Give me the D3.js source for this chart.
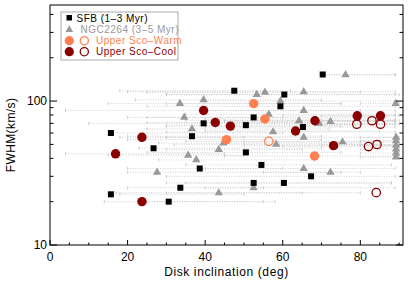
<!DOCTYPE html>
<html>
<head>
<meta charset="utf-8">
<script src="https://cdn.jsdelivr.net/npm/d3@7"></script>
<style>
  body { margin: 0; background: #fff; }
  svg { display: block; font-family: "Liberation Sans", Arial, sans-serif; }
</style>
</head>
<body>
<div id="chart"></div>
<script>
// [inclination, FWHM, incl. low, incl. high]
const sfb = [
  [47.5, 118, 18, 62], [60.4, 111, 30, 90], [59.4, 92, 25, 89], [70.3, 153, 70, 89],
  [39.6, 70, 10, 65], [50.5, 68, 30, 80], [52.5, 77, 25, 85], [36.6, 57, 20, 70],
  [50.5, 44, 25, 75], [54.5, 36, 35, 88], [38.6, 34, 20, 60], [52.5, 27, 35, 88],
  [60.3, 27, 30, 88], [33.6, 25, 20, 55], [30.6, 20, 25, 58], [15.7, 60, 16, 60],
  [26.7, 47, 23, 70], [15.7, 22.5, 18, 50], [65.2, 66, 40, 89], [67.3, 30, 30, 89]
];
const ngc = [
  [53.3, 111, 30, 89], [55.4, 115, 25, 80], [33.5, 96, 15, 75], [39.6, 102, 22, 70],
  [59.4, 100, 40, 89], [34.6, 77, 20, 60], [56.4, 81, 35, 89], [36.6, 64, 25, 72],
  [44.7, 51, 28, 80], [57.5, 61, 30, 89], [58.3, 50, 32, 85], [43.5, 46, 30, 65],
  [35.6, 42, 15, 50], [37.7, 39, 28, 68], [76.2, 152, 70, 89], [65.4, 116, 20, 89],
  [89.1, 96, 80, 90], [65.4, 86, 40, 89], [64.2, 73, 35, 89], [69.3, 70, 50, 89],
  [72.3, 72, 45, 89], [65.4, 56, 30, 89], [75.4, 52, 50, 89], [65.4, 34, 40, 89],
  [72.3, 32, 55, 80], [27.6, 32, 20, 75], [52.5, 25, 40, 89], [43.5, 23, 30, 65],
  [89.2, 56, 80, 90], [89.2, 53, 80, 90], [89.2, 49.5, 80, 90], [89.2, 46.4, 80, 90],
  [89.2, 43.5, 80, 90], [89.2, 40.8, 80, 90]
];
const warmFilled = [[52.5, 96, 30, 75], [55.4, 75, 40, 89], [45.5, 54, 20, 70], [68.2, 41.5, 45, 89]];
const warmOpen = [[56.4, 52.5, 35, 85]];
const coolFilled = [
  [39.6, 86, 4, 80], [42.6, 71, 25, 70], [46.5, 67, 30, 75], [23.7, 56, 18, 50],
  [16.9, 43, 4, 45], [23.7, 20, 14, 55], [79.2, 79, 60, 89], [85.2, 79, 70, 90],
  [68.3, 73, 45, 89], [63.3, 62, 40, 85], [73.1, 49, 50, 89]
];
const coolOpen = [
  [79.1, 69, 65, 89], [83.0, 73, 70, 90], [85.2, 69, 70, 90],
  [82.1, 48.3, 60, 89], [84.3, 49.9, 70, 90], [84.1, 23.1, 17, 80]
];
const xTicks = [0, 20, 40, 60, 80];
const yTicks = [10, 100];
const legendLabels = ["SFB (1\u20133 Myr)", "NGC2264 (3\u20135 Myr)", "Upper Sco\u2013Warm", "Upper Sco\u2013Cool"];

const width = 415, height = 283;
const m = { left: 50, right: 12, top: 5, bottom: 38 };
const warm = "#ff7f50", cool = "#8b0000", gray = "#999";

const svg = d3.select("#chart").append("svg")
  .attr("width", width).attr("height", height);

const x = d3.scaleLinear().domain([0, 91]).range([m.left, width - m.right]);
const y = d3.scaleLog().domain([10, 465]).range([height - m.bottom, m.top]);

// error bars
const all = [].concat(sfb, ngc, warmFilled, warmOpen, coolFilled, coolOpen);
const bars = svg.append("g").attr("stroke", "#c4c4c4").attr("stroke-width", 0.8);
all.forEach(d => {
  bars.append("line")
    .attr("x1", x(d[2])).attr("x2", x(d[3]))
    .attr("y1", y(d[1])).attr("y2", y(d[1]))
    .attr("stroke-dasharray", "1,1.5");
  [d[2], d[3]].forEach(v => bars.append("line")
    .attr("x1", x(v)).attr("x2", x(v))
    .attr("y1", y(d[1]) - 1.5).attr("y2", y(d[1]) + 1.5));
});

// points
svg.append("g").selectAll("path").data(ngc).join("path")
  .attr("transform", d => `translate(${x(d[0])},${y(d[1])})`)
  .attr("d", d3.symbol(d3.symbolTriangle, 30))
  .attr("fill", gray);

svg.append("g").selectAll("rect").data(sfb).join("rect")
  .attr("x", d => x(d[0]) - 3).attr("y", d => y(d[1]) - 3)
  .attr("width", 6).attr("height", 6).attr("fill", "#000");

function circles(data, color, filled) {
  svg.append("g").selectAll("circle").data(data).join("circle")
    .attr("cx", d => x(d[0])).attr("cy", d => y(d[1]))
    .attr("r", filled ? 4.7 : 4.2)
    .attr("fill", filled ? color : "none")
    .attr("stroke", color).attr("stroke-width", filled ? 0 : 1.3);
}
circles(warmFilled, warm, true);
circles(warmOpen, warm, false);
circles(coolFilled, cool, true);
circles(coolOpen, cool, false);

// axes
const x0 = m.left, x1 = width - m.right, y0 = height - m.bottom, y1 = m.top;
const frame = svg.append("g").attr("stroke", "#000").attr("stroke-width", 1);
frame.append("rect").attr("x", x0).attr("y", y1)
  .attr("width", x1 - x0).attr("height", y0 - y1).attr("fill", "none");

d3.range(0, 91, 5).forEach(v => {
  const len = v % 20 === 0 ? 5 : 2.5;
  frame.append("line").attr("x1", x(v)).attr("x2", x(v)).attr("y1", y0).attr("y2", y0 - len);
});
const yMinor = [20, 30, 40, 50, 60, 70, 80, 90, 200, 300, 400];
yTicks.concat(yMinor).forEach(v => {
  const len = yTicks.includes(v) ? 7 : 3.5;
  frame.append("line").attr("x1", x0).attr("x2", x0 + len).attr("y1", y(v)).attr("y2", y(v));
  frame.append("line").attr("x1", x1).attr("x2", x1 - len).attr("y1", y(v)).attr("y2", y(v));
});

svg.append("g").selectAll("text").data(xTicks).join("text")
  .attr("x", d => x(d)).attr("y", y0 + 16)
  .attr("text-anchor", "middle").attr("font-size", 12).text(d => d);
svg.append("g").selectAll("text").data(yTicks).join("text")
  .attr("x", x0 - 3).attr("y", d => y(d) + 4)
  .attr("text-anchor", "end").attr("font-size", 12).text(d => d);

svg.append("text").attr("x", (x0 + x1) / 2).attr("y", 276)
  .attr("text-anchor", "middle").attr("font-size", 12).attr("letter-spacing", 0.6)
  .text("Disk inclination (deg)");
svg.append("text").attr("transform", `translate(15,${(y0 + y1) / 2 + 10}) rotate(-90)`)
  .attr("text-anchor", "middle").attr("font-size", 12).attr("letter-spacing", 0.4)
  .text("FWHM(km/s)");

// legend
const lg = svg.append("g");
lg.append("rect").attr("x", 61).attr("y", 12).attr("width", 117).attr("height", 48)
  .attr("fill", "#fff").attr("stroke", "#aaa").attr("stroke-width", 1);
lg.append("rect").attr("x", 66.5).attr("y", 15).attr("width", 5.5).attr("height", 5.5).attr("fill", "#000");
lg.append("path").attr("transform", "translate(69.3,29.8)")
  .attr("d", d3.symbol(d3.symbolTriangle, 26)).attr("fill", gray);
lg.append("circle").attr("cx", 69.3).attr("cy", 40.7).attr("r", 4.6).attr("fill", warm);
lg.append("circle").attr("cx", 84.3).attr("cy", 40.7).attr("r", 4.1).attr("fill", "none")
  .attr("stroke", warm).attr("stroke-width", 1.3);
lg.append("circle").attr("cx", 69.3).attr("cy", 51.7).attr("r", 4.6).attr("fill", cool);
lg.append("circle").attr("cx", 84.3).attr("cy", 51.7).attr("r", 4.1).attr("fill", "none")
  .attr("stroke", cool).attr("stroke-width", 1.3);
const lgX = [76.5, 80.5, 96, 96], lgY = [21.5, 32.5, 44, 55], lgC = ["#000", gray, warm, cool];
legendLabels.forEach((t, i) => lg.append("text")
  .attr("x", lgX[i]).attr("y", lgY[i]).attr("font-size", 10).attr("letter-spacing", 0.5)
  .attr("fill", lgC[i]).text(t));
</script>
</body>
</html>
